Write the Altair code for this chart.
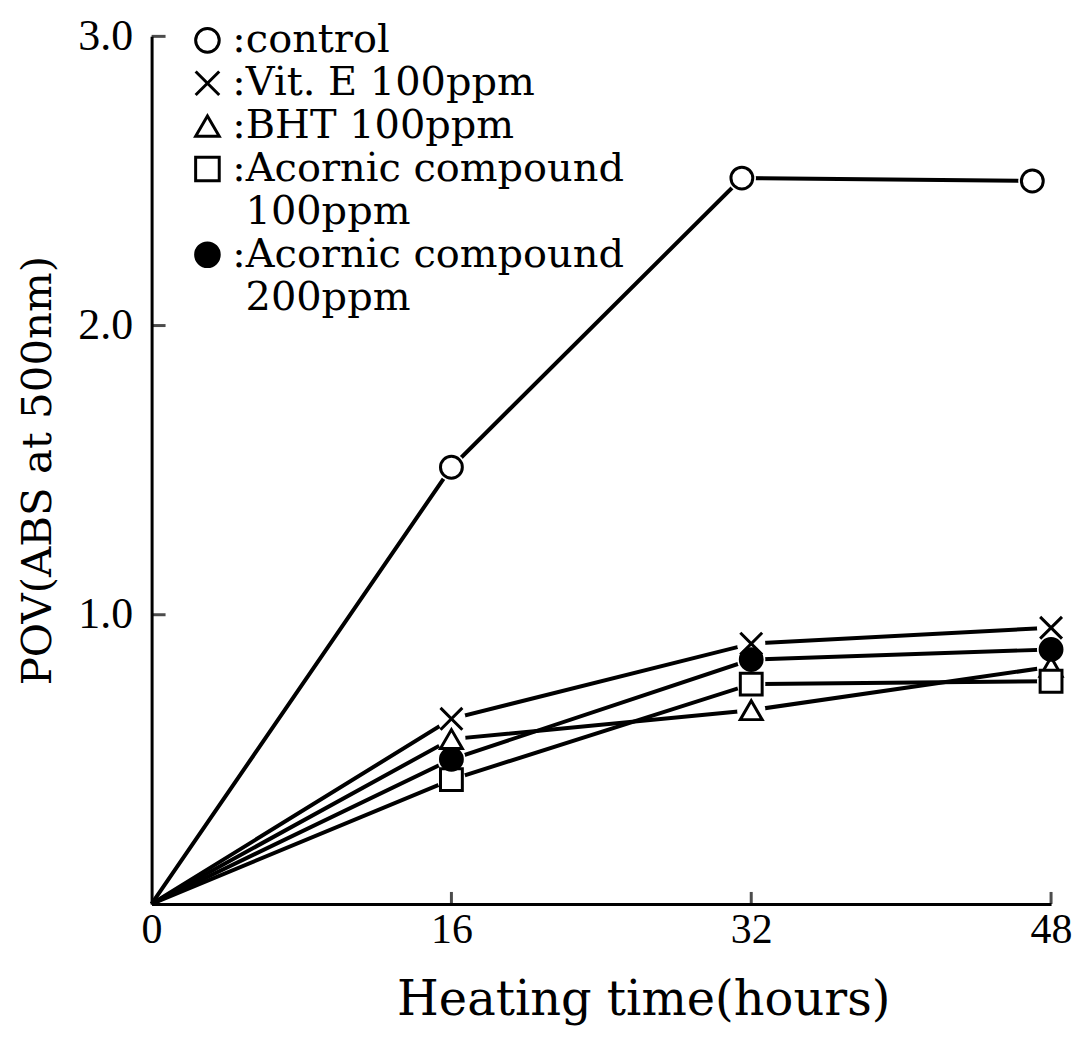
import altair as alt
import pandas as pd

# ---- data ----
hours = [0, 16, 32, 48]
control_hours = [0, 16, 31.5, 47]
series_names = ["control", "Vit. E 100ppm", "BHT 100ppm",
                "Acornic compound 100ppm", "Acornic compound 200ppm"]
control = [0.0, 1.51, 2.51, 2.50]
vit_e = [0.0, 0.64, 0.90, 0.955]
bht = [0.0, 0.57, 0.67, 0.82]
acornic_100 = [0.0, 0.43, 0.76, 0.77]
acornic_200 = [0.0, 0.50, 0.845, 0.88]

x_ticks = [0, 16, 32, 48]
y_ticks = [1.0, 2.0, 3.0]

# legend rows (second-line continuation rows carry no symbol)
legend_entries = ["control", "Vit. E 100ppm", "BHT 100ppm",
                  "Acornic compound 100ppm", "cont100",
                  "Acornic compound 200ppm", "cont200"]
cross_path = "M-1,-1L1,1M-1,1L1,-1"
legend_shapes = ["circle", cross_path, "triangle-up", "square", "M0,0", "circle", "M0,0"]
legend_fills = ["white", "white", "white", "white", "transparent", "black", "transparent"]
legend_strokes = ["black", "black", "black", "black", "transparent", "black", "transparent"]

rows = []
for name, xs, vals in [
    (series_names[0], control_hours, control),
    (series_names[1], hours, vit_e),
    (series_names[2], hours, bht),
    (series_names[3], hours, acornic_100),
    (series_names[4], hours, acornic_200),
]:
    for h, v in zip(xs, vals):
        rows.append({"series": name, "hours": h, "pov": v})
df = pd.DataFrame(rows)
df_marks = df[df["hours"] > 0]

xticks_df = pd.DataFrame({"hours": x_ticks[1:], "pov": [0.0] * (len(x_ticks) - 1)})
yticks_df = pd.DataFrame({"hours": [0] * len(y_ticks), "pov": y_ticks})

x_scale = alt.Scale(domain=[0, 48], nice=False, zero=True)
y_scale = alt.Scale(domain=[0, 3], nice=False)

x_enc = alt.X("hours:Q", scale=x_scale, axis=alt.Axis(
    values=x_ticks, format="d", ticks=False, grid=False,
    domainColor="black", domainWidth=3,
    labelFont="Liberation Serif", labelFontSize=42, labelColor="black",
    labelPadding=6, labelFlush=False,
    title="Heating time(hours)", titleFont="DejaVu Serif", titleFontSize=48,
    titleFontWeight="normal", titleColor="black", titlePadding=26,
    titleX=493, titleAlign="center"))
y_enc = alt.Y("pov:Q", scale=y_scale, axis=alt.Axis(
    values=y_ticks, format=".1f", ticks=False, grid=False,
    domainColor="black", domainWidth=3,
    labelFont="Liberation Serif", labelFontSize=44, labelColor="black",
    labelPadding=19,
    title="POV(ABS at 500nm)", titleFont="DejaVu Serif", titleFontSize=42,
    titleFontWeight="normal", titleColor="black", titlePadding=18))

indent = "\u200b\u2004"
label_expr = ("datum.label == 'cont100' ? '" + indent + "100ppm' : "
              "datum.label == 'cont200' ? '" + indent + "200ppm' : "
              "indexof(datum.label, 'Acornic') == 0 ? ':Acornic compound' : "
              "':' + datum.label")

legend = alt.Legend(
    title=None, orient="none", legendX=36, legendY=-16,
    labelExpr=label_expr, labelFont="DejaVu Serif", labelFontSize=40,
    labelColor="black", labelLimit=600, labelOffset=5,
    symbolSize=560, symbolStrokeWidth=3,
    rowPadding=3, padding=0)

shape_enc = alt.Shape("series:N", scale=alt.Scale(domain=legend_entries, range=legend_shapes),
                      legend=legend)
fill_enc = alt.Fill("series:N", scale=alt.Scale(domain=legend_entries, range=legend_fills),
                    legend=legend)
stroke_enc = alt.Stroke("series:N", scale=alt.Scale(domain=legend_entries, range=legend_strokes),
                        legend=legend)

lines = alt.Chart(df).mark_line(color="black", strokeWidth=4).encode(
    x=x_enc, y=y_enc, detail="series:N", order="hours:Q")

halo = alt.Chart(df_marks).mark_point(
    shape="circle", filled=True, color="white", size=800, opacity=1).encode(
    x="hours:Q", y="pov:Q")

points = alt.Chart(df_marks).mark_point(
    filled=True, strokeWidth=3, size=480, opacity=1).encode(
    x="hours:Q", y="pov:Q", shape=shape_enc, fill=fill_enc, stroke=stroke_enc)

xticks = alt.Chart(xticks_df).mark_tick(
    orient="vertical", color="black", size=12, thickness=3, yOffset=-6).encode(
    x="hours:Q", y="pov:Q")
yticks = alt.Chart(yticks_df).mark_tick(
    orient="horizontal", color="black", size=14, thickness=3, xOffset=7).encode(
    x="hours:Q", y="pov:Q")

chart = alt.layer(lines, halo, points, xticks, yticks).properties(
    width=902, height=870,
    autosize=alt.AutoSizeParams(type="none"),
    padding={"left": 144, "top": 27, "right": 21, "bottom": 130},
    background="white",
).configure_view(stroke=None)

chart.save("out.html", embed_options={"renderer": "svg", "actions": False})
